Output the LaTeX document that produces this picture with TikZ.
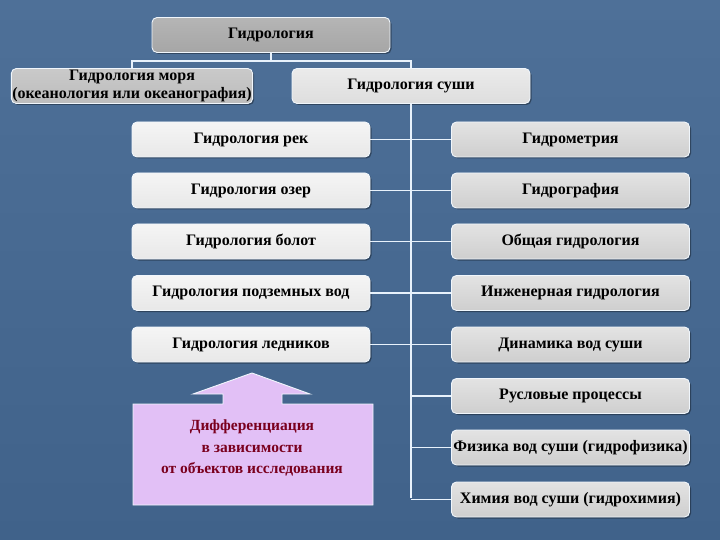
\documentclass[tikz,border=0pt]{standalone}
\usepackage{fontspec}
\setmainfont{Liberation Serif}
\usetikzlibrary{shadows}
\definecolor{bgtop}{RGB}{78,112,152}
\definecolor{bgbot}{RGB}{64,98,138}
\definecolor{linec}{RGB}{232,242,252}
\definecolor{edgec}{RGB}{240,246,252}
\definecolor{pinkc}{RGB}{226,192,246}
\definecolor{maroon}{RGB}{122,0,30}
\tikzset{
  box/.style={draw=edgec, line width=0.9pt, rounded corners=5pt,
    minimum width=238pt, minimum height=35pt, inner sep=1pt, align=center,
    font=\fontsize{16}{18}\selectfont\bfseries, text=black,
    drop shadow={shadow xshift=1.5pt, shadow yshift=-1.5pt, opacity=0.35, fill=black}},
  gdark/.style={box, top color=gray!58, bottom color=gray!70},
  gmid/.style={box, top color=gray!42, bottom color=gray!52},
  glight/.style={box, top color=gray!8, bottom color=gray!18},
  gland/.style={box, top color=gray!16, bottom color=gray!26},
  gright/.style={box, top color=gray!22, bottom color=gray!38},
  conn/.style={draw=linec, line width=1.6pt},
}
\begin{document}
\begin{tikzpicture}[x=1pt,y=-1pt]
\useasboundingbox (0,0) rectangle (720,540);
\shade[top color=bgtop, bottom color=bgbot] (0,0) rectangle (720,540);

\coordinate (split) at (271,61);
\coordinate (trunkend) at (411,498);

\node[gdark] (top) at (271,35) {Гидрология};
\node[gmid] (sea) at (132,86) {Гидрология моря\\(океанология или океанография)};
\node[gland] (land) at (411,86) {Гидрология суши};

\node[glight] (L1) at (251,139.5) {Гидрология рек};
\node[glight] (L2) at (251,190.5) {Гидрология озер};
\node[glight] (L3) at (251,241.5) {Гидрология болот};
\node[glight] (L4) at (251,293) {Гидрология подземных вод};
\node[glight] (L5) at (251,344.5) {Гидрология ледников};

\node[gright] (R1) at (570.5,139.5) {Гидрометрия};
\node[gright] (R2) at (570.5,190.5) {Гидрография};
\node[gright] (R3) at (570.5,241.5) {Общая гидрология};
\node[gright] (R4) at (570.5,293) {Инженерная гидрология};
\node[gright] (R5) at (570.5,344.5) {Динамика вод суши};
\node[gright] (R6) at (570.5,396) {Русловые процессы};
\node[gright] (R7) at (570.5,447.5) {Физика вод суши (гидрофизика)};
\node[gright] (R8) at (570.5,499.5) {Химия вод суши (гидрохимия)};

\draw[conn] (top.south) -- (split);
\draw[conn] (sea.north) |- (split) -| (land.north);
\draw[conn] (land.south) -- (trunkend);
\foreach \i in {1,...,5} { \draw[conn] (L\i.east) -- (R\i.west); }
\foreach \i in {6,7,8} { \draw[conn] (land.south |- R\i.west) -- (R\i.west); }

% block arrow
\draw[fill=pinkc, draw=edgec, line width=0.9pt]
  (252,373) -- (310,394) -- (282,394) -- (282,404) -- (373,404) -- (373,505)
  -- (133,505) -- (133,404) -- (223,404) -- (223,394) -- (193,394) -- cycle;
\node[font=\fontsize{15.5}{21.5}\selectfont\bfseries, text=maroon, align=center]
  (diff) at (252,448) {Дифференциация\\в зависимости\\от объектов исследования};
\end{tikzpicture}
\end{document}
